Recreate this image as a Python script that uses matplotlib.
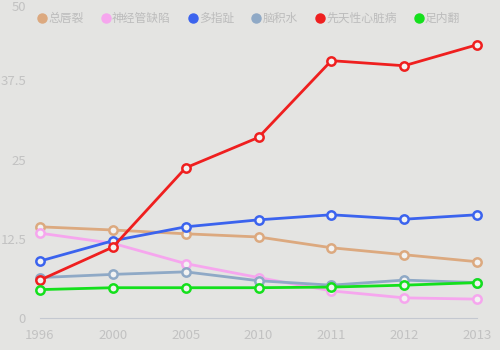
import matplotlib
matplotlib.use("Agg")
import matplotlib.pyplot as plt
from matplotlib.lines import Line2D

plt.rcParams["font.family"] = ["Noto Sans CJK SC", "DejaVu Sans"]

years = ["1996", "2000", "2005", "2010", "2011", "2012", "2013"]
names = ["总唇裂", "神经管缺陷", "多指趾", "脑积水", "先天性心脏病", "足内翻"]
colors = ["#dca97f", "#f6a6ee", "#3b63ee", "#8fa9c6", "#ef1f1f", "#14e01c"]

cleft = [14.4, 13.9, 13.3, 12.8, 11.1, 10.0, 8.9]
neural_tube = [13.4, 11.8, 8.6, 6.4, 4.3, 3.2, 3.0]
polydactyly = [9.0, 12.2, 14.4, 15.5, 16.3, 15.6, 16.3]
hydrocephalus = [6.4, 6.9, 7.3, 5.9, 5.2, 6.0, 5.6]
heart = [6.0, 11.2, 23.7, 28.5, 40.6, 39.8, 43.1]
clubfoot = [4.5, 4.8, 4.8, 4.8, 4.9, 5.2, 5.6]

series = [cleft, neural_tube, polydactyly, hydrocephalus, heart, clubfoot]
yticks = [0, 12.5, 25, 37.5, 50]

fig = plt.figure(figsize=(5, 3.5), dpi=100, facecolor="#e4e4e2")
ax = fig.add_axes([0.08, 0.091, 0.874, 0.906])
ax.set_facecolor("#e4e4e2")

x = range(len(years))
for vals, color in zip(series, colors):
    ax.plot(x, vals, color=color, linewidth=2, marker="o", markersize=6,
            markerfacecolor="#f2f2f2", markeredgecolor=color, markeredgewidth=1.8,
            clip_on=False)

ax.set_xlim(0, len(years) - 1)
ax.set_ylim(0, 50)
ax.set_xticks(list(x))
ax.set_xticklabels(years)
ax.set_yticks(yticks)
ax.set_yticklabels(["0", "12.5", "25", "37.5", "50"])
ax.tick_params(axis="both", length=0, labelsize=9.5, colors="#c2c2c2", pad=8)
ax.tick_params(axis="y", pad=10)
# the top tick label sits against the figure edge, hang it below the tick
ax.get_yticklabels()[-1].set_verticalalignment("top")
for side in ["top", "right", "left"]:
    ax.spines[side].set_visible(False)
ax.spines["bottom"].set_color("#c4c8d0")

handles = [Line2D([], [], linestyle="none", marker="o", markersize=6.5,
                  markerfacecolor=c, markeredgecolor=c) for c in colors]
leg = fig.legend(handles, names, loc="center", bbox_to_anchor=(0.497, 0.948),
                 ncol=6, frameon=False, fontsize=8.5, handletextpad=0.05,
                 columnspacing=1.45, handlelength=0.9)
for t in leg.get_texts():
    t.set_color("#bcbcbc")

fig.savefig("out.png", dpi=100, facecolor=fig.get_facecolor())
